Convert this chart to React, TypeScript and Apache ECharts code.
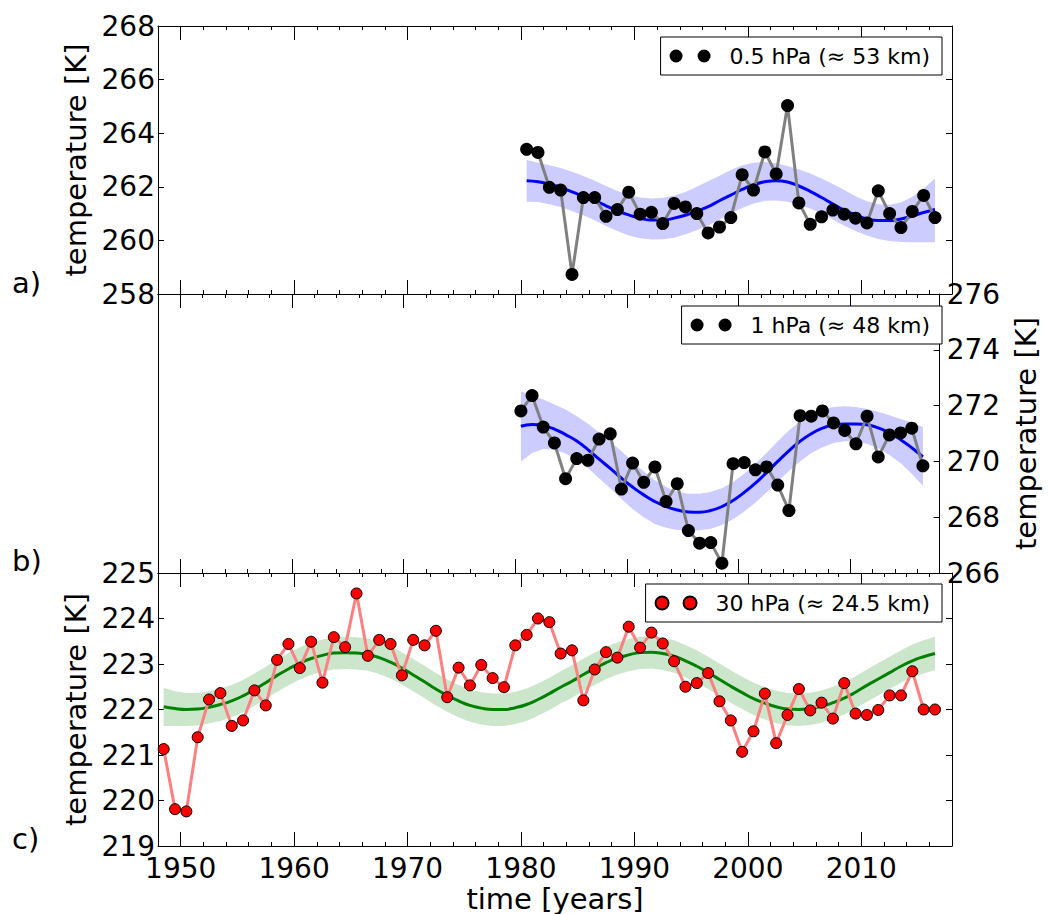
import React, { useEffect, useRef } from "react";
import * as echarts from "echarts";

const FONT = "'DejaVu Sans', 'Liberation Sans', sans-serif";

// Time axis
const X_MIN = 1948;
const X_MAX = 2018;
const majorYears = [1950, 1960, 1970, 1980, 1990, 2000, 2010];
const minorYears = [
  1952, 1954, 1956, 1958, 1962, 1964, 1966, 1968, 1972, 1974, 1976, 1978,
  1982, 1984, 1986, 1988, 1992, 1994, 1996, 1998, 2002, 2004, 2006, 2008,
  2012, 2014, 2016,
];

// Yearly means are plotted at mid-year
const yearsUpper = [
  1980, 1981, 1982, 1983, 1984, 1985, 1986, 1987, 1988, 1989, 1990, 1991, 1992,
  1993, 1994, 1995, 1996, 1997, 1998, 1999, 2000, 2001, 2002, 2003, 2004, 2005,
  2006, 2007, 2008, 2009, 2010, 2011, 2012, 2013, 2014, 2015, 2016,
];
const yearsLower = [
  1948, 1949, 1950, 1951, 1952, 1953, 1954, 1955, 1956, 1957, 1958, 1959, 1960,
  1961, 1962, 1963, 1964, 1965, 1966, 1967, 1968, 1969, 1970, 1971, 1972, 1973,
  1974, 1975, 1976, 1977, 1978, 1979, 1980, 1981, 1982, 1983, 1984, 1985, 1986,
  1987, 1988, 1989, 1990, 1991, 1992, 1993, 1994, 1995, 1996, 1997, 1998, 1999,
  2000, 2001, 2002, 2003, 2004, 2005, 2006, 2007, 2008, 2009, 2010, 2011, 2012,
  2013, 2014, 2015, 2016,
];

// a) 0.5 hPa
const nameA = "0.5 hPa (\u2248 53 km)";
const tempA = [
  263.4, 263.28, 261.98, 261.88, 258.73, 261.6, 261.6, 260.9, 261.15, 261.8,
  260.98, 261.05, 260.63, 261.38, 261.25, 261.0, 260.28, 260.5, 260.85, 262.45,
  261.88, 263.3, 262.48, 265.03, 261.4, 260.6, 260.88, 261.13, 260.98, 260.83,
  260.65, 261.85, 261.0, 260.48, 261.08, 261.68, 260.85,
];
const fitA = [
  262.23, 262.19, 262.1, 261.98, 261.81, 261.65, 261.48, 261.29, 261.1, 260.95,
  260.83, 260.76, 260.76, 260.83, 260.94, 261.09, 261.26, 261.48, 261.69, 261.9,
  262.08, 262.19, 262.23, 262.18, 262.03, 261.83, 261.6, 261.36, 261.13, 260.94,
  260.8, 260.74, 260.74, 260.8, 260.91, 261.04, 261.15,
];
const bandUpA = [
  263.0, 262.9, 262.8, 262.7, 262.56, 262.4, 262.23, 262.03, 261.84, 261.69,
  261.6, 261.56, 261.59, 261.68, 261.81, 262.0, 262.21, 262.41, 262.63, 262.8,
  262.9, 262.93, 262.88, 262.78, 262.65, 262.5, 262.31, 262.1, 261.88, 261.65,
  261.46, 261.35, 261.33, 261.41, 261.63, 261.94, 262.31,
];
const bandLoA = [
  261.44, 261.43, 261.35, 261.25, 261.1, 260.94, 260.75, 260.54, 260.35, 260.18,
  260.08, 260.03, 260.04, 260.1, 260.23, 260.38, 260.56, 260.78, 261.0, 261.21,
  261.38, 261.48, 261.49, 261.44, 261.34, 261.19, 261.0, 260.78, 260.55, 260.35,
  260.18, 260.05, 259.98, 259.94, 259.93, 259.93, 259.93,
];

// b) 1 hPa
const nameB = "1 hPa (\u2248 48 km)";
const tempB = [
  271.81, 272.36, 271.23, 270.66, 269.38, 270.1, 270.04, 270.8, 270.99, 269.01,
  269.94, 269.25, 269.8, 268.56, 269.2, 267.52, 267.07, 267.09, 266.35, 269.92,
  269.96, 269.7, 269.8, 269.15, 268.24, 271.64, 271.62, 271.81, 271.38, 271.11,
  270.63, 271.62, 270.16, 270.95, 271.02, 271.19, 269.84,
];
const fitB = [
  271.26, 271.32, 271.28, 271.16, 270.96, 270.73, 270.42, 270.08, 269.75, 269.4,
  269.08, 268.8, 268.56, 268.38, 268.26, 268.19, 268.18, 268.24, 268.38, 268.6,
  268.89, 269.22, 269.6, 270.0, 270.38, 270.72, 270.99, 271.19, 271.31, 271.34,
  271.34, 271.31, 271.2, 271.02, 270.78, 270.49, 270.16,
];
const bandUpB = [
  272.51, 272.36, 272.22, 272.04, 271.86, 271.62, 271.35, 271.04, 270.72, 270.36,
  270.0, 269.64, 269.32, 269.08, 268.91, 268.84, 268.84, 268.9, 269.04, 269.26,
  269.56, 269.92, 270.3, 270.72, 271.11, 271.44, 271.69, 271.86, 271.95, 271.98,
  271.95, 271.88, 271.78, 271.65, 271.52, 271.4, 271.23,
];
const bandLoB = [
  270.0, 270.3, 270.44, 270.42, 270.28, 270.06, 269.76, 269.4, 269.04, 268.65,
  268.29, 268.0, 267.76, 267.62, 267.54, 267.52, 267.53, 267.59, 267.72, 267.93,
  268.2, 268.53, 268.89, 269.28, 269.66, 270.0, 270.3, 270.51, 270.66, 270.72,
  270.71, 270.63, 270.47, 270.23, 269.94, 269.56, 269.13,
];

// c) 30 hPa
const nameC = "30 hPa (\u2248 24.5 km)";
const tempC = [
  221.13, 219.81, 219.76, 221.39, 222.22, 222.36, 221.64, 221.76, 222.42, 222.09,
  223.09, 223.44, 222.91, 223.49, 222.59, 223.59, 223.37, 224.55, 223.18, 223.53,
  223.44, 222.75, 223.53, 223.41, 223.73, 222.27, 222.92, 222.53, 222.98, 222.69,
  222.49, 223.41, 223.64, 224.0, 223.92, 223.23, 223.3, 222.2, 222.88, 223.26,
  223.14, 223.82, 223.36, 223.69, 223.45, 223.06, 222.5, 222.58, 222.8, 222.18,
  221.76, 221.07, 221.52, 222.35, 221.26, 221.88, 222.45, 221.98, 222.15, 221.8,
  222.58, 221.91, 221.88, 221.99, 222.31, 222.31, 222.84, 222.0, 222.0,
];
const fitC = [
  222.06, 222.02, 222.0, 222.01, 222.05, 222.11, 222.19, 222.3, 222.44, 222.59,
  222.75, 222.89, 223.02, 223.12, 223.19, 223.24, 223.25, 223.24, 223.21, 223.14,
  223.04, 222.91, 222.76, 222.61, 222.45, 222.31, 222.19, 222.09, 222.03, 222.0,
  222.0, 222.04, 222.11, 222.22, 222.35, 222.49, 222.62, 222.77, 222.9, 223.03,
  223.13, 223.2, 223.25, 223.26, 223.23, 223.17, 223.07, 222.95, 222.81, 222.66,
  222.51, 222.37, 222.24, 222.14, 222.06, 222.01, 222.0, 222.02, 222.07, 222.15,
  222.25, 222.38, 222.53, 222.67, 222.81, 222.95, 223.07, 223.16, 223.23,
];
const bandUpC = [
  222.48, 222.4, 222.36, 222.36, 222.4, 222.46, 222.54, 222.65, 222.79, 222.94,
  223.1, 223.24, 223.37, 223.47, 223.54, 223.59, 223.6, 223.59, 223.56, 223.49,
  223.39, 223.26, 223.11, 222.96, 222.8, 222.66, 222.54, 222.44, 222.38, 222.35,
  222.35, 222.39, 222.46, 222.57, 222.7, 222.84, 222.97, 223.12, 223.25, 223.38,
  223.48, 223.55, 223.6, 223.61, 223.58, 223.52, 223.42, 223.3, 223.16, 223.01,
  222.86, 222.72, 222.59, 222.49, 222.41, 222.36, 222.35, 222.37, 222.42, 222.5,
  222.6, 222.73, 222.88, 223.02, 223.16, 223.3, 223.43, 223.52, 223.6,
];
const bandLoC = [
  221.64, 221.64, 221.64, 221.65, 221.69, 221.75, 221.83, 221.94, 222.08, 222.23,
  222.39, 222.53, 222.66, 222.76, 222.83, 222.88, 222.89, 222.88, 222.85, 222.78,
  222.68, 222.55, 222.4, 222.25, 222.09, 221.95, 221.83, 221.73, 221.67, 221.64,
  221.64, 221.68, 221.75, 221.86, 221.99, 222.13, 222.26, 222.41, 222.54, 222.67,
  222.77, 222.84, 222.89, 222.9, 222.87, 222.81, 222.71, 222.59, 222.45, 222.3,
  222.15, 222.01, 221.88, 221.78, 221.7, 221.65, 221.64, 221.66, 221.71, 221.79,
  221.89, 222.02, 222.17, 222.31, 222.45, 222.59, 222.71, 222.79, 222.86,
];

// Panel geometry (px)
const PLOT_LEFT = 158;
const PLOT_RIGHT = 96;
const panels = [
  { top: 26, height: 268 },
  { top: 294, height: 279 },
  { top: 573, height: 279 },
];

const BLACK = "#000000";
const axisLineStyle = { color: BLACK, width: 1 };
const tickLabelStyle = { fontSize: 28, fontFamily: FONT, color: BLACK };
const titleStyle = { fontSize: 29, fontFamily: FONT, color: BLACK };

// legend marker: two dots side by side
const TWO_DOTS =
  "path://M0,6.5a6.5,6.5 0 1,0 13,0a6.5,6.5 0 1,0 -13,0M28,6.5a6.5,6.5 0 1,0 13,0a6.5,6.5 0 1,0 -13,0";

const pts = (years: number[], vals: number[]) =>
  years.map((y, i) => [y + 0.5, vals[i]]);

function xAxesFor(g: number) {
  const base = {
    gridIndex: g,
    type: "value",
    min: X_MIN,
    max: X_MAX,
    splitLine: { show: false },
  };
  const isBottomPanel = g === 2;
  return [
    {
      ...base,
      position: "bottom",
      axisLine: { show: true, onZero: false, lineStyle: axisLineStyle },
      axisTick: {
        show: true,
        inside: true,
        length: 14,
        customValues: majorYears,
        lineStyle: axisLineStyle,
      },
      axisLabel: isBottomPanel
        ? {
            show: true,
            customValues: majorYears,
            margin: 8,
            formatter: (v: number) => String(v),
            ...tickLabelStyle,
          }
        : { show: false },
      name: isBottomPanel ? "time [years]" : "",
      nameLocation: "middle",
      nameGap: 38,
      nameTextStyle: titleStyle,
    },
    {
      ...base,
      position: "top",
      axisLine: { show: true, onZero: false, lineStyle: axisLineStyle },
      axisTick: {
        show: true,
        inside: true,
        length: 14,
        customValues: majorYears,
        lineStyle: axisLineStyle,
      },
      axisLabel: { show: false },
    },
    {
      ...base,
      position: "bottom",
      axisLine: { show: false, onZero: false },
      axisTick: {
        show: true,
        inside: true,
        length: 4,
        customValues: minorYears,
        lineStyle: axisLineStyle,
      },
      axisLabel: { show: false },
    },
    {
      ...base,
      position: "top",
      axisLine: { show: false, onZero: false },
      axisTick: {
        show: true,
        inside: true,
        length: 4,
        customValues: minorYears,
        lineStyle: axisLineStyle,
      },
      axisLabel: { show: false },
    },
  ];
}

function yAxisDef(
  g: number,
  position: "left" | "right",
  min: number,
  max: number,
  interval: number,
  opts: { labels: boolean; ticks: boolean; title: boolean }
) {
  return {
    gridIndex: g,
    type: "value",
    position,
    min,
    max,
    interval,
    splitLine: { show: false },
    axisLine: { show: true, onZero: false, lineStyle: axisLineStyle },
    axisTick: {
      show: opts.ticks,
      inside: true,
      length: 6,
      lineStyle: axisLineStyle,
    },
    axisLabel: opts.labels
      ? {
          show: true,
          margin: position === "left" ? 3 : 7,
          showMinLabel: true,
          showMaxLabel: true,
          ...tickLabelStyle,
        }
      : { show: false },
    name: opts.title ? "temperature [K]" : "",
    nameLocation: "middle",
    nameRotate: 90,
    nameGap: 65,
    nameTextStyle: titleStyle,
  };
}

function panelSeries(
  g: number,
  yIdx: number,
  name: string,
  years: number[],
  temp: number[],
  fit: number[],
  up: number[],
  lo: number[],
  colors: {
    band: string;
    fit: string;
    line: string;
    dot: string;
    dotBorder?: string;
    dotSize: number;
  }
) {
  const common = { xAxisIndex: 4 * g, yAxisIndex: yIdx, silent: true };
  const bandData = years.map((y, i) => [y + 0.5, lo[i], up[i]]);
  return [
    {
      ...common,
      type: "custom",
      name: "band-" + g,
      data: bandData,
      encode: { x: 0, y: [1, 2] },
      z: 1,
      renderItem: (params: any, api: any) => {
        if (params.dataIndex !== 0) return null;
        const upper = bandData.map((d) => api.coord([d[0], d[2]]));
        const lower = bandData
          .slice()
          .reverse()
          .map((d) => api.coord([d[0], d[1]]));
        return {
          type: "polygon",
          shape: { points: upper.concat(lower) },
          style: { fill: colors.band, stroke: "none" },
          silent: true,
        };
      },
    },
    {
      ...common,
      type: "line",
      name: "fit-" + g,
      data: pts(years, fit),
      smooth: true,
      symbol: "none",
      z: 2,
      lineStyle: { color: colors.fit, width: 3 },
    },
    {
      ...common,
      type: "line",
      name: "link-" + g,
      data: pts(years, temp),
      symbol: "none",
      z: 3,
      lineStyle: { color: colors.line, width: 3 },
    },
    {
      ...common,
      type: "scatter",
      name,
      data: pts(years, temp),
      symbol: "circle",
      symbolSize: colors.dotSize,
      z: 4,
      itemStyle: {
        color: colors.dot,
        borderColor: colors.dotBorder || colors.dot,
        borderWidth: colors.dotBorder ? 1 : 0,
        opacity: 1,
      },
    },
  ];
}

function legendDef(name: string, top: number) {
  return {
    data: [name],
    right: 106,
    top,
    orient: "horizontal",
    selectedMode: false,
    icon: TWO_DOTS,
    itemWidth: 41,
    itemHeight: 13,
    backgroundColor: "#ffffff",
    borderColor: BLACK,
    borderWidth: 1,
    borderRadius: 0,
    padding: [8, 12, 8, 9],
    z: 10,
    textStyle: {
      fontSize: 22,
      fontFamily: FONT,
      color: BLACK,
      padding: [0, 0, 0, 14],
    },
  };
}

export default function App() {
  const ref = useRef<HTMLDivElement>(null);

  useEffect(() => {
    if (!ref.current) return;
    const chart = echarts.init(ref.current, null, { renderer: "svg" });

    const blueColors = {
      band: "#ccccff",
      fit: "#0000ff",
      line: "#808080",
      dot: "#000000",
      dotSize: 13,
    };
    const greenColors = {
      band: "#cce6cc",
      fit: "#008000",
      line: "#ff8080",
      dot: "#ff0000",
      dotBorder: "#000000",
      dotSize: 11,
    };

    const option = {
      animation: false,
      backgroundColor: "#ffffff",
      grid: panels.map((p) => ({
        left: PLOT_LEFT,
        right: PLOT_RIGHT,
        top: p.top,
        height: p.height,
        containLabel: false,
      })),
      xAxis: [0, 1, 2].flatMap((g) => xAxesFor(g)),
      yAxis: [
        yAxisDef(0, "left", 258, 268, 2, { labels: true, ticks: true, title: true }),
        yAxisDef(0, "right", 258, 268, 2, { labels: false, ticks: true, title: false }),
        yAxisDef(1, "left", 266, 276, 2, { labels: false, ticks: false, title: false }),
        yAxisDef(1, "right", 266, 276, 2, { labels: true, ticks: true, title: true }),
        yAxisDef(2, "left", 219, 225, 1, { labels: true, ticks: true, title: true }),
        yAxisDef(2, "right", 219, 225, 1, { labels: false, ticks: true, title: false }),
      ],
      legend: [
        legendDef(nameA, 37),
        legendDef(nameB, 306),
        legendDef(nameC, 584),
      ],
      series: [
        ...panelSeries(0, 0, nameA, yearsUpper, tempA, fitA, bandUpA, bandLoA, blueColors),
        ...panelSeries(1, 3, nameB, yearsUpper, tempB, fitB, bandUpB, bandLoB, blueColors),
        ...panelSeries(2, 4, nameC, yearsLower, tempC, fitC, bandUpC, bandLoC, greenColors),
      ],
      graphic: [
        { type: "text", left: 12, top: 268, style: { text: "a)", fontSize: 29, fontFamily: FONT, fill: BLACK } },
        { type: "text", left: 12, top: 546, style: { text: "b)", fontSize: 29, fontFamily: FONT, fill: BLACK } },
        { type: "text", left: 12, top: 824, style: { text: "c)", fontSize: 29, fontFamily: FONT, fill: BLACK } },
      ],
    };

    chart.setOption(option as any);
    return () => {
      chart.dispose();
    };
  }, []);

  return (
    <div
      ref={ref}
      style={{ position: "absolute", left: 0, top: 0, width: 1048, height: 914 }}
    />
  );
}
